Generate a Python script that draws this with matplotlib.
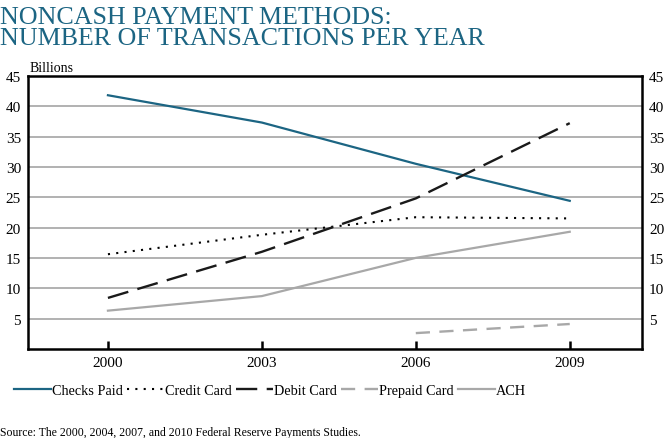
import matplotlib.pyplot as plt

# data (billions of transactions)
years = ["2000", "2003", "2006", "2009"]
checks_paid = [41.8, 37.3, 30.5, 24.4]
credit_card = [15.6, 18.8, 21.7, 21.5]
debit_card = [8.4, 16.0, 24.8, 37.2]
prepaid_card = [2.6, 4.1]
ach = [6.3, 8.7, 15.0, 19.3]

TEAL = "#1c6583"
GRID = "#ababab"

plt.rcParams["font.family"] = ["Liberation Serif", "DejaVu Serif"]

fig = plt.figure(figsize=(6.64, 4.39), dpi=100)
ax = fig.add_axes([0.042, 0.203, 0.925, 0.622])

x = list(range(len(years)))
ax.plot(x, checks_paid, color=TEAL, lw=1.6, label="Checks Paid", zorder=3)
ax.plot(x, credit_card, color="black", lw=1.5, linestyle=(0, (1, 3)), label="Credit Card", zorder=3)
ax.plot(x, debit_card, color="#1a1a1a", lw=1.7, linestyle=(0, (9, 4)), label="Debit Card", zorder=3)
ax.plot(x[2:], prepaid_card, color="#a8a8a8", lw=1.7, linestyle=(0, (6, 4)), label="Prepaid Card", zorder=3)
ax.plot(x, ach, color="#a8a8a8", lw=1.6, label="ACH", zorder=3)

ax.set_xlim(-0.52, 3.47)
ax.set_ylim(0, 45)
ax.set_yticks(range(5, 46, 5))
ax.set_xticks(x)
ax.set_xticklabels(years, fontsize=11)
ax.tick_params(axis="x", direction="in", length=6, width=1.8, pad=5)
ax.tick_params(axis="y", length=0, labelsize=11, pad=5, labelright=True, right=False)

for v in range(5, 45, 5):
    ax.axhline(v, color=GRID, lw=1.3, zorder=1)

for s in ax.spines.values():
    s.set_linewidth(1.8)

fig.text(0.045, 1 - 72 / 439, "Billions", fontsize=10, ha="left", va="baseline")

fig.text(0.0, 1 - 24 / 439, "NONCASH PAYMENT METHODS:", color=TEAL, fontsize=18.7,
         ha="left", va="baseline")
fig.text(0.0, 1 - 45 / 439, "NUMBER OF TRANSACTIONS PER YEAR", color=TEAL, fontsize=18.7,
         ha="left", va="baseline")

fig.legend(loc="lower left", bbox_to_anchor=(0.012, 0.08), ncol=5, frameon=False,
           fontsize=10.3, handlelength=2.6, handletextpad=0.1, columnspacing=0.25,
           borderaxespad=0)

fig.text(0.0, 1 - 436 / 439, "Source: The 2000, 2004, 2007, and 2010 Federal Reserve Payments Studies.",
         fontsize=8.5, ha="left", va="baseline")

fig.savefig("out.png", dpi=100)
